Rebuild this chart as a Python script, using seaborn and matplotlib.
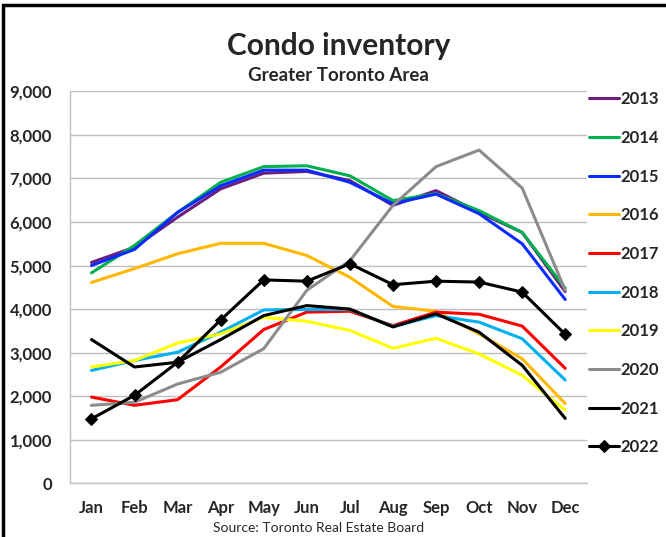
import matplotlib
matplotlib.use("Agg")
import matplotlib.pyplot as plt
import matplotlib.patches as patches
from matplotlib.ticker import FuncFormatter, FixedLocator
import seaborn as sns

months = ["Jan", "Feb", "Mar", "Apr", "May", "Jun", "Jul", "Aug", "Sep", "Oct", "Nov", "Dec"]

y2013 = [5070, 5420, 6110, 6760, 7120, 7160, 6950, 6380, 6720, 6220, 5760, 4400]
y2014 = [4830, 5460, 6220, 6910, 7270, 7290, 7060, 6490, 6650, 6260, 5760, 4480]
y2015 = [5000, 5370, 6220, 6830, 7190, 7190, 6910, 6420, 6640, 6190, 5500, 4220]
y2016 = [4610, 4930, 5270, 5510, 5510, 5230, 4730, 4060, 3950, 3430, 2860, 1830]
y2017 = [1980, 1790, 1920, 2670, 3530, 3930, 3950, 3620, 3930, 3880, 3610, 2640]
y2018 = [2590, 2820, 3010, 3470, 3980, 3990, 3990, 3600, 3850, 3700, 3320, 2370]
y2019 = [2670, 2820, 3220, 3430, 3810, 3720, 3510, 3100, 3330, 2970, 2480, 1680]
y2020 = [1790, 1860, 2280, 2550, 3090, 4430, 5110, 6380, 7270, 7650, 6780, 4430]
y2021 = [3300, 2670, 2780, 3300, 3850, 4080, 4000, 3590, 3890, 3470, 2710, 1490]
y2022 = [1480, 2020, 2780, 3750, 4670, 4640, 5040, 4560, 4640, 4620, 4390, 3420]

years = ["2013", "2014", "2015", "2016", "2017", "2018", "2019", "2020", "2021", "2022"]
series = [y2013, y2014, y2015, y2016, y2017, y2018, y2019, y2020, y2021, y2022]
colors = ["#6B1E7E", "#00B050", "#0A2BFF", "#FFB800", "#FF0000",
          "#00B0F0", "#FFFF00", "#8C8C8C", "#000000", "#000000"]

sns.set_style("white")
plt.rcParams["font.family"] = ["Lato", "DejaVu Sans"]

fig = plt.figure(figsize=(6.66, 5.37), dpi=100)
ax = fig.add_axes([0.105, 0.100, 0.776, 0.730])

for yr, vals, c in zip(years, series, colors):
    mk = "D" if yr == "2022" else None
    sns.lineplot(x=months, y=vals, color=c, lw=2.2, marker=mk, markersize=6,
                 markeredgecolor=c, label=yr, ax=ax, sort=False)

ax.set_ylim(0, 9000)
ax.set_xlim(-0.5, 11.5)
ax.set_yticks(range(0, 9001, 1000))
ax.yaxis.set_major_formatter(FuncFormatter(lambda v, p: f"{int(v):,}"))
ax.grid(axis="y", color="#BFBFBF", lw=1)
ax.set_axisbelow(True)
for s in ["top", "right"]:
    ax.spines[s].set_visible(False)
for s in ["left", "bottom"]:
    ax.spines[s].set_color("#BFBFBF")
    ax.spines[s].set_linewidth(1)

ax.xaxis.set_minor_locator(FixedLocator([i - 0.5 for i in range(13)]))
ax.tick_params(axis="x", which="major", length=0, pad=12)
ax.tick_params(axis="x", which="minor", length=5, color="#BFBFBF", direction="out")
ax.tick_params(axis="y", length=5, color="#BFBFBF", direction="out", pad=8)
ax.tick_params(labelsize=12)
for lab in ax.get_xticklabels() + ax.get_yticklabels():
    lab.set_fontweight("bold")
ax.set_xlabel("")
ax.set_ylabel("")

leg = ax.legend(loc="upper left", bbox_to_anchor=(0.885, 0.830), bbox_transform=fig.transFigure,
                frameon=False, fontsize=12, labelspacing=1.36, handlelength=1.75,
                handletextpad=0.1, borderaxespad=0, borderpad=0)
for t in leg.get_texts():
    t.set_fontweight("bold")

fig.text(0.508, 0.915, "Condo inventory", ha="center", va="center", fontsize=21.5, fontweight="bold")
fig.text(0.508, 0.860, "Greater Toronto Area", ha="center", va="center", fontsize=13.5, fontweight="bold")
fig.text(0.478, 0.017, "Source: Toronto Real Estate Board", ha="center", va="center", fontsize=10)

fig.patches.append(patches.Rectangle((0.004, -0.2), 1.2, 1.19, transform=fig.transFigure,
                                     fill=False, ec="black", lw=2.5))

fig.savefig("out.png", dpi=100)
